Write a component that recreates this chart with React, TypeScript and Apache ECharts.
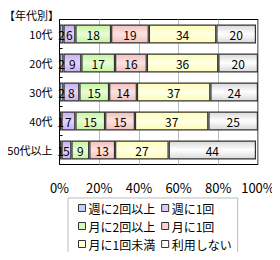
import React, { useEffect, useRef } from "react";
import * as echarts from "echarts";

const categories = ["10代", "20代", "30代", "40代", "50代以上"];
const seriesNames = ["週に2回以上", "週に1回", "月に2回以上", "月に1回", "月に1回未満", "利用しない"];
const weekly2 = [2, 2, 2, 1, 1];
const weekly1 = [6, 9, 8, 7, 5];
const monthly2 = [18, 17, 15, 15, 9];
const monthly1 = [19, 16, 14, 15, 13];
const monthlyLess = [34, 36, 37, 37, 27];
const notUsed = [20, 20, 24, 25, 44];
const xTicks = ["0%", "20%", "40%", "60%", "80%", "100%"];

const seriesValues = [weekly2, weekly1, monthly2, monthly1, monthlyLess, notUsed];
const edgeColors = ["#9fb6ea", "#c9aef2", "#c4f59c", "#f2c0bc", "#fefcb4", "#d8d8d8"];
const midColors = ["#c8d6f8", "#e2d4fb", "#e8fdd8", "#fde2e0", "#ffffe6", "#ffffff"];
const legendColors = ["#c4d0f6", "#dccbf8", "#d6f9b8", "#f9d4d0", "#ffffcc", "#ffffff"];

const FONT = "'Noto Sans CJK JP', 'DejaVu Sans', sans-serif";

export default function App() {
  const ref = useRef<HTMLDivElement>(null);
  useEffect(() => {
    if (!ref.current) return;
    const chart = echarts.init(ref.current, undefined, { renderer: "svg" });
    chart.setOption({
      animation: false,
      backgroundColor: "#ffffff",
      title: {
        text: "【年代別】",
        left: -1,
        top: 4,
        textStyle: { fontSize: 11, fontWeight: "normal", color: "#000", fontFamily: FONT },
      },
      grid: { left: 59.5, top: 19.5, width: 198.5, height: 145, show: true, borderColor: "#000", borderWidth: 1 },
      xAxis: {
        type: "value",
        min: 0,
        max: 100,
        interval: 20,
        axisLine: { show: false },
        axisTick: { show: false },
        splitLine: { lineStyle: { color: "#bbb", width: 1 } },
        axisLabel: {
          margin: 16,
          fontSize: 13,
          color: "#000",
          fontFamily: FONT,
          formatter: (v: number) => xTicks[Math.round(v / 20)],
        },
      },
      yAxis: {
        type: "category",
        inverse: true,
        data: categories,
        axisLine: { show: true, lineStyle: { color: "#000" } },
        axisTick: { show: true, inside: true, length: 3, lineStyle: { color: "#000" } },
        axisLabel: {
          margin: 7,
          fontSize: 11,
          color: "#000",
          fontFamily: FONT,
          overflow: "none",
          hideOverlap: false,
        },
      },
      legend: {
        left: 68,
        top: 198,
        width: 192,
        height: 55,
        orient: "horizontal",
        itemWidth: 7,
        itemHeight: 7,
        itemGap: 6,
        padding: [4, 6, 4, 10],
        borderColor: "#bbb",
        borderWidth: 1,
        icon: "rect",
        textStyle: { fontSize: 12, color: "#000", fontFamily: FONT, width: 85, padding: [0, 0, 0, -2] },
        data: seriesNames.map((n, i) => ({
          name: n,
          itemStyle: { color: legendColors[i], borderColor: "#333", borderWidth: 1 },
        })),
      },
      series: seriesNames.map((name, i) => ({
        name,
        type: "bar",
        stack: "total",
        barWidth: 19,
        data: seriesValues[i],
        itemStyle: {
          color: {
            type: "linear",
            x: 0,
            y: 0,
            x2: 0,
            y2: 1,
            colorStops: [
              { offset: 0, color: edgeColors[i] },
              { offset: 0.5, color: midColors[i] },
              { offset: 1, color: edgeColors[i] },
            ],
          },
          borderColor: "#333",
          borderWidth: 1.2,
        },
        label: {
          show: true,
          position: "inside",
          fontSize: 12,
          color: "#000",
          fontFamily: FONT,
        },
      })),
    });
    return () => chart.dispose();
  }, []);
  return <div ref={ref} style={{ width: 280, height: 260, margin: -8 }} />;
}
